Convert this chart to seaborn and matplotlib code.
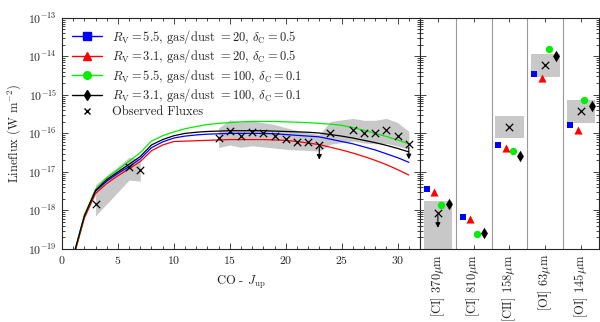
import numpy as np
import pandas as pd
import matplotlib
matplotlib.use('Agg')
import matplotlib.pyplot as plt
import seaborn as sns
from matplotlib.lines import Line2D
from matplotlib.ticker import LogLocator, LogFormatterMathtext, MultipleLocator

# CO ladder: model curves (log10 of line flux in W m^-2)
J = np.arange(1, 32)
blue_log = [-19.22, -18.15, -17.50, -17.24, -17.04, -16.86, -16.66, -16.37, -16.22, -16.12, -16.07,
            -16.04, -16.02, -16.01, -16.00, -16.00, -16.00, -16.00, -16.01, -16.03, -16.05, -16.07,
            -16.09, -16.15, -16.21, -16.27, -16.35, -16.43, -16.53, -16.63, -16.75]
red_log = [-19.25, -18.20, -17.56, -17.30, -17.10, -16.92, -16.73, -16.45, -16.30, -16.21, -16.20,
           -16.19, -16.18, -16.17, -16.16, -16.16, -16.16, -16.16, -16.17, -16.18, -16.21, -16.25,
           -16.29, -16.36, -16.43, -16.51, -16.60, -16.70, -16.81, -16.94, -17.08]
green_log = [-19.20, -18.12, -17.45, -17.15, -16.94, -16.72, -16.50, -16.20, -16.06, -15.96, -15.88,
             -15.82, -15.77, -15.74, -15.72, -15.70, -15.69, -15.69, -15.69, -15.70, -15.71, -15.72,
             -15.74, -15.76, -15.79, -15.85, -15.92, -16.00, -16.08, -16.17, -16.27]
black_log = [-19.20, -18.14, -17.48, -17.20, -17.00, -16.80, -16.60, -16.30, -16.16, -16.06, -16.00,
             -15.97, -15.95, -15.94, -15.93, -15.93, -15.93, -15.93, -15.94, -15.95, -15.96, -15.97,
             -15.99, -16.03, -16.07, -16.12, -16.18, -16.24, -16.31, -16.39, -16.48]

# observed CO fluxes with shaded error range
obs_J = [3, 6, 7, 14, 15, 16, 17, 18, 19, 20, 21, 22, 23, 24, 26, 27, 28, 29, 30, 31]
obs_log = [-17.83, -16.87, -16.95, -16.13, -15.93, -16.07, -15.96, -16.00, -16.06, -16.14, -16.22,
           -16.22, -16.29, -15.98, -15.90, -15.99, -15.99, -15.91, -16.06, -16.28]
obs_lo = [-18.14, -17.21, -17.24, -16.37, -16.30, -16.36, -16.32, -16.35, -16.38, -16.41, -16.43,
          -16.44, -16.46, -16.28, -16.20, -16.25, -16.27, -16.26, -16.33, -16.41]
obs_hi = [-17.33, -16.62, -16.66, -15.86, -15.65, -15.70, -15.68, -15.72, -15.77, -15.85, -15.92,
          -15.98, -16.03, -15.69, -15.61, -15.66, -15.66, -15.61, -15.72, -15.95]
upper_limits = [23, 31]

# atomic fine-structure lines
lines = ['[CI] 370$\\mu$m', '[CI] 810$\\mu$m', '[CII] 158$\\mu$m', '[OI] 63$\\mu$m', '[OI] 145$\\mu$m']
line_blue = [-17.45, -18.18, -16.29, -14.45, -15.78]
line_red = [-17.51, -18.22, -16.38, -14.57, -15.90]
line_green = [-17.85, -18.61, -16.46, -13.82, -15.14]
line_black = [-17.84, -18.59, -16.58, -13.98, -15.30]
line_obs = [-18.06, np.nan, -15.84, -14.23, -15.42]
line_obs_lo = [-19.5, np.nan, -16.13, -14.53, -15.72]
line_obs_hi = [-17.76, np.nan, -15.54, -13.94, -15.13]

labels = ['$R_\\mathrm{V}=5.5$, gas/dust $=20$, $\\delta_\\mathrm{C}=0.5$',
          '$R_\\mathrm{V}=3.1$, gas/dust $=20$, $\\delta_\\mathrm{C}=0.5$',
          '$R_\\mathrm{V}=5.5$, gas/dust $=100$, $\\delta_\\mathrm{C}=0.1$',
          '$R_\\mathrm{V}=3.1$, gas/dust $=100$, $\\delta_\\mathrm{C}=0.1$']
colors = ['#0000ff', '#ff0000', '#00ee00', '#000000']
markers = ['s', '^', 'o', 'd']
marker_s = [24, 34, 28, 34]

sns.set_style('ticks')
plt.rcParams['font.family'] = ['cmr10', 'DejaVu Serif']
plt.rcParams['mathtext.fontset'] = 'cm'
plt.rcParams['axes.unicode_minus'] = False
plt.rcParams['axes.formatter.use_mathtext'] = True
plt.rcParams['font.size'] = 9

fig = plt.figure(figsize=(6, 3.22), dpi=100)
ax = fig.add_axes([0.1033, 0.2267, 0.5967, 0.718])
ax2 = fig.add_axes([0.70, 0.2267, 0.2983, 0.718], sharey=ax)

# model curves
curves = pd.DataFrame({'J': np.tile(J, 4),
                       'flux': 10 ** np.concatenate([blue_log, red_log, green_log, black_log]),
                       'model': np.repeat(labels, len(J))})
sns.lineplot(data=curves, x='J', y='flux', hue='model', palette=dict(zip(labels, colors)),
             lw=0.9, ax=ax, legend=False, zorder=3)

# shaded observed ranges, split into contiguous groups
oj = np.array(obs_J)
groups = np.split(np.arange(len(oj)), np.where(np.diff(oj) > 3)[0] + 1)
for g in groups:
    ax.fill_between(oj[g], 10 ** np.array(obs_lo)[g], 10 ** np.array(obs_hi)[g],
                    color='#c8c8c8', lw=0, zorder=1)

obs = pd.DataFrame({'J': obs_J, 'flux': 10 ** np.array(obs_log)})
sns.scatterplot(data=obs, x='J', y='flux', marker='x', color='black', s=28, linewidth=0.9,
                ax=ax, zorder=5, legend=False)
for uj in upper_limits:
    f = 10 ** obs_log[obs_J.index(uj)]
    ax.annotate('', xy=(uj, f / 2.9), xytext=(uj, f),
                arrowprops=dict(arrowstyle='-|>', color='black', lw=0.8, mutation_scale=7), zorder=6)

ax.set_yscale('log')
ax.set_xlim(0, 32)
ax.set_ylim(1e-19, 1e-13)
ax.xaxis.set_major_locator(MultipleLocator(5))
ax.xaxis.set_minor_locator(MultipleLocator(1))
ax.yaxis.set_major_locator(LogLocator(base=10, numticks=10))
ax.yaxis.set_minor_locator(LogLocator(base=10, subs=np.arange(2, 10), numticks=20))
ax.yaxis.set_major_formatter(LogFormatterMathtext())
ax.tick_params(which='both', direction='in', top=True, right=True, width=0.6, labelsize=8.5)
ax.tick_params(which='major', length=4)
ax.tick_params(which='minor', length=2)
ax.set_xlabel('CO - $J_\\mathrm{up}$', labelpad=6)
ax.set_ylabel('Lineflux (W m$^{-2}$)')

handles = [Line2D([], [], color=c, marker=m, ms=5.5, lw=1) for c, m in zip(colors, markers)]
handles.append(Line2D([], [], color='black', marker='x', ms=5, lw=0))
ax.legend(handles, labels + ['Observed Fluxes'], loc='upper left', frameon=False,
          fontsize=9, handlelength=2.4, borderaxespad=0.4, labelspacing=0.12)

# atomic lines panel
pos = np.arange(1, 6)
for i in range(5):
    if not np.isnan(line_obs[i]):
        ax2.fill_between([pos[i] - 0.4, pos[i] + 0.4], 10 ** line_obs_lo[i], 10 ** line_obs_hi[i],
                         color='#c8c8c8', lw=0, zorder=1)
offsets = [-0.31, -0.1, 0.09, 0.3]
for vals, c, m, off, sz in zip([line_blue, line_red, line_green, line_black], colors, markers, offsets, marker_s):
    sns.scatterplot(x=pos + off, y=10 ** np.array(vals), marker=m, color=c, s=sz,
                    linewidth=0, ax=ax2, zorder=4, legend=False)
sns.scatterplot(x=pos, y=10 ** np.array(line_obs), marker='x', color='black', s=28, linewidth=0.9,
                ax=ax2, zorder=5, legend=False)
ax2.annotate('', xy=(1, 10 ** line_obs[0] / 2.9), xytext=(1, 10 ** line_obs[0]),
             arrowprops=dict(arrowstyle='-|>', color='black', lw=0.8, mutation_scale=7), zorder=6)
for b in pos[:-1] + 0.5:
    ax2.axvline(b, color='#999999', lw=0.8, zorder=0)

ax2.set_xlim(0.5, 5.5)
ax2.set_xticks(pos)
ax2.set_xticklabels(lines, rotation=90)
ax2.tick_params(axis='y', which='both', labelleft=False, direction='in', left=True, right=True, width=0.6)
ax2.tick_params(axis='x', direction='in', top=True, length=3, width=0.6)
ax2.tick_params(which='major', axis='y', length=4)
ax2.tick_params(which='minor', axis='y', length=2)
ax2.set_xlabel('')
ax2.set_ylabel('')

for a in (ax, ax2):
    a.yaxis.offsetText.set_visible(False)
    for s in a.spines.values():
        s.set_linewidth(0.8)

fig.savefig('out.png', dpi=100)
